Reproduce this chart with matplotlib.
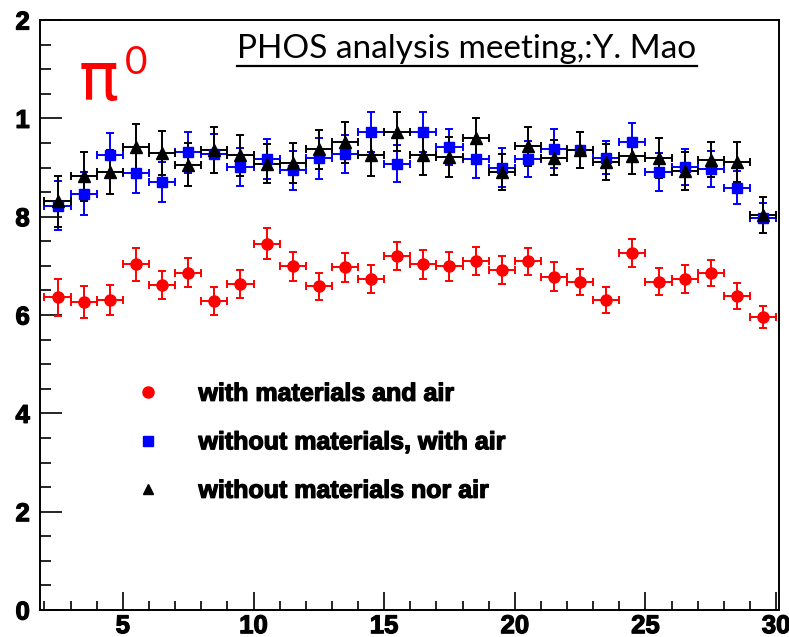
import numpy as np
import matplotlib.pyplot as plt
import matplotlib.patheffects as pe
from matplotlib.lines import Line2D

# pT bins (GeV/c), bin width 1
bin_centers = np.arange(2.5, 30.0, 1.0)
bin_half_width = 0.5

# with materials and air
eff_mat_air = [0.636, 0.626, 0.630, 0.703, 0.661, 0.686, 0.629, 0.663, 0.745, 0.699,
               0.658, 0.697, 0.673, 0.720, 0.703, 0.699, 0.710, 0.691, 0.709, 0.678,
               0.667, 0.630, 0.726, 0.668, 0.673, 0.685, 0.639, 0.596]
err_mat_air = [0.038, 0.032, 0.031, 0.033, 0.029, 0.030, 0.028, 0.028, 0.031, 0.029,
               0.028, 0.030, 0.028, 0.029, 0.029, 0.030, 0.029, 0.028, 0.028, 0.029,
               0.027, 0.026, 0.029, 0.028, 0.028, 0.027, 0.026, 0.022]

# without materials, with air
eff_air = [0.822, 0.847, 0.925, 0.889, 0.871, 0.931, 0.928, 0.901, 0.917, 0.894,
           0.919, 0.928, 0.972, 0.908, 0.972, 0.942, 0.918, 0.900, 0.917, 0.938,
           0.936, 0.920, 0.952, 0.891, 0.901, 0.897, 0.859, 0.797]
err_air = [0.050, 0.043, 0.046, 0.041, 0.041, 0.042, 0.040, 0.039, 0.041, 0.039,
           0.042, 0.039, 0.041, 0.037, 0.040, 0.037, 0.039, 0.040, 0.037, 0.040,
           0.036, 0.034, 0.038, 0.039, 0.036, 0.037, 0.033, 0.031]

# without materials nor air
eff_vac = [0.831, 0.882, 0.891, 0.941, 0.930, 0.906, 0.935, 0.925, 0.908, 0.909,
           0.937, 0.951, 0.925, 0.973, 0.925, 0.921, 0.959, 0.891, 0.943, 0.920,
           0.935, 0.911, 0.923, 0.919, 0.893, 0.916, 0.911, 0.803]
err_vac = [0.052, 0.050, 0.044, 0.048, 0.045, 0.044, 0.047, 0.042, 0.040, 0.041,
           0.040, 0.041, 0.042, 0.039, 0.040, 0.041, 0.041, 0.037, 0.040, 0.036,
           0.037, 0.037, 0.037, 0.040, 0.038, 0.036, 0.040, 0.036]

y_ticks = [0.0, 0.2, 0.4, 0.6, 0.8, 1.0, 1.2]
y_tick_labels = ["0", "2", "4", "6", "8", "1", "2"]
x_ticks = [5, 10, 15, 20, 25, 30]

W, H = 789, 637
fig = plt.figure(figsize=(W / 100, H / 100), dpi=100)
ax = fig.add_axes([39.5 / W, (H - 610) / H, (779 - 39.5) / W, (610 - 20) / H])

# heavy Helvetica-like look
heavy = [pe.withStroke(linewidth=0.9, foreground="black")]
tick_font = dict(family="Liberation Sans", weight="bold", size=18.5)

def draw_series(y, yerr, color, marker, ms, label):
    ax.errorbar(bin_centers, y, xerr=bin_half_width, yerr=yerr, fmt=marker,
                color=color, ecolor=color, ms=ms, mec=color, mfc=color,
                elinewidth=1.4, capsize=3.2, capthick=1.4, label=label)

draw_series(eff_mat_air, err_mat_air, "#ff0000", "o", 8, "with materials and air")
draw_series(eff_air, err_air, "#0000ff", "s", 7.5, "without materials, with air")
draw_series(eff_vac, err_vac, "#000000", "^", 8.5, "without materials nor air")

ax.set_xlim(1.81, 30.11)
ax.set_ylim(0, 1.2)

ax.set_xticks(x_ticks)
ax.set_xticks(np.arange(2, 31, 1), minor=True)
ax.set_xticklabels([str(t) for t in x_ticks], fontdict=tick_font)
ax.set_yticks(y_ticks)
ax.set_yticks(np.arange(0, 1.21, 0.05), minor=True)
ax.set_yticklabels(y_tick_labels, fontdict=tick_font)
for lab in ax.get_xticklabels() + ax.get_yticklabels():
    lab.set_path_effects(heavy)

ax.tick_params(axis="x", which="major", direction="in", length=13, width=1.2, pad=3)
ax.tick_params(axis="x", which="minor", direction="in", length=6.5, width=1.2)
ax.tick_params(axis="y", which="major", direction="in", length=16, width=1.2, pad=7)
ax.tick_params(axis="y", which="minor", direction="in", length=8, width=1.2)
for side in ax.spines.values():
    side.set_linewidth(1.4)

# legend: marker only, no error bars
handles = [
    Line2D([], [], ls="none", marker="o", color="#ff0000", ms=8),
    Line2D([], [], ls="none", marker="s", color="#0000ff", ms=7),
    Line2D([], [], ls="none", marker="^", color="#000000", ms=7),
]
labels = ["with materials and air", "without materials, with air",
          "without materials nor air"]
leg = ax.legend(handles, labels, loc="upper left", bbox_to_anchor=(0.1, 0.425),
                frameon=False, handlelength=1.0, handletextpad=1.5, labelspacing=0.98,
                prop=dict(family="Liberation Sans", weight="bold", size=18))
for t in leg.get_texts():
    t.set_path_effects(heavy)

# pi0 label
fig.text(79 / W, 1 - 100 / H, "\u03c0", color="#ff0000", fontsize=48,
         family=["DejaVu Sans"], va="baseline", ha="left")
fig.text(125 / W, 1 - 74 / H, "0", color="#ff0000", fontsize=28,
         family=["Lato", "DejaVu Sans"], va="baseline", ha="left")

# meeting tag, underlined
fig.text(237 / W, 1 - 58 / H, "PHOS analysis meeting,:Y. Mao", fontsize=24,
         family=["Lato", "DejaVu Sans"], va="baseline", ha="left")
fig.add_artist(Line2D([237 / W, 697 / W], [1 - 66 / H, 1 - 66 / H],
                      color="black", lw=1.6, transform=fig.transFigure))

fig.savefig("out.png", dpi=100)
